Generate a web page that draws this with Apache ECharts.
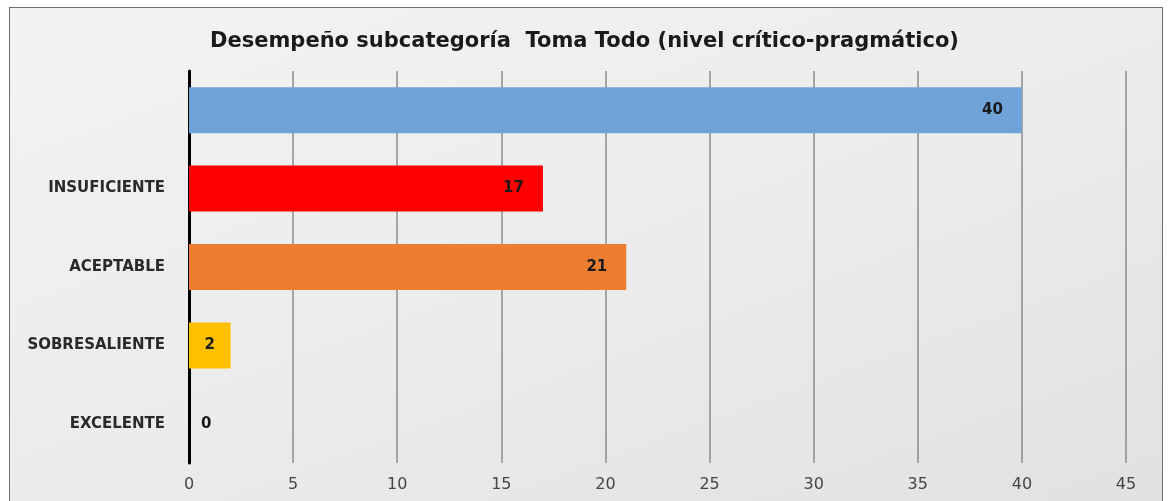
<!DOCTYPE html>
<html>
<head>
<meta charset="utf-8">
<script src="https://cdn.jsdelivr.net/npm/echarts@6/dist/echarts.min.js"></script>
<style>
  html, body { margin: 0; padding: 0; background: #ffffff; }
  #frame {
    position: absolute; left: 9px; top: 7px; width: 1152px; height: 500px;
    border: 1px solid #6e6e6e;
    background: linear-gradient(160deg, #f3f3f3 0%, #ebebeb 55%, #e1e1e1 100%);
  }
  #chart { position: absolute; left: 0; top: 0; width: 1169px; height: 501px; }
</style>
</head>
<body>
<div id="frame"></div>
<div id="chart"></div>
<script>
// categorias de abajo hacia arriba (asi las pone echarts)
const categories = ['EXCELENTE', 'SOBRESALIENTE', 'ACEPTABLE', 'INSUFICIENTE', ''];
const values = [0, 2, 21, 17, 40];
const barColors = ['#ffc000', '#ffc000', '#ed7d31', '#ff0000', '#6fa2d8'];
const xTicks = [0, 5, 10, 15, 20, 25, 30, 35, 40, 45];

const chart = echarts.init(document.getElementById('chart'));

const seriesData = values.map((v, i) => {
  const item = {
    value: v,
    itemStyle: { color: barColors[i] }
  };
  // barras chicas: etiqueta dentro o a la derecha
  if (v === 0) item.label = { position: 'right', distance: 12 };
  else if (v < 5) item.label = { position: 'inside' };
  return item;
});

const option = {
  animation: false,
  title: {
    text: 'Desempeño subcategoría  Toma Todo (nivel crítico-pragmático)',
    left: 'center',
    top: 26,
    textStyle: {
      fontFamily: 'DejaVu Sans',
      fontWeight: 'bold',
      fontSize: 21,
      color: '#1a1a1a'
    }
  },
  grid: { left: 189, right: 43, top: 71, bottom: 38 },
  xAxis: {
    type: 'value',
    min: 0,
    max: 45,
    interval: 5,
    axisLine: { show: false },
    axisTick: { show: false },
    splitLine: { lineStyle: { color: '#8c8c8c', width: 1.5 } },
    axisLabel: {
      margin: 14,
      color: '#454545',
      fontFamily: 'DejaVu Sans',
      fontSize: 16,
      formatter: v => (xTicks.includes(v) ? String(v) : '')
    }
  },
  yAxis: {
    type: 'category',
    data: categories,
    axisLine: { lineStyle: { color: '#000000', width: 3 } },
    axisTick: { show: false },
    axisLabel: {
      margin: 24,
      color: '#2a2a2a',
      fontFamily: 'DejaVu Sans',
      fontWeight: 'bold',
      fontSize: 15
    }
  },
  series: [{
    type: 'bar',
    data: seriesData,
    barWidth: 46,
    label: {
      show: true,
      position: 'insideRight',
      distance: 19,
      color: '#1a1a1a',
      fontFamily: 'DejaVu Sans',
      fontWeight: 'bold',
      fontSize: 15
    }
  }]
};

chart.setOption(option);
</script>
</body>
</html>
